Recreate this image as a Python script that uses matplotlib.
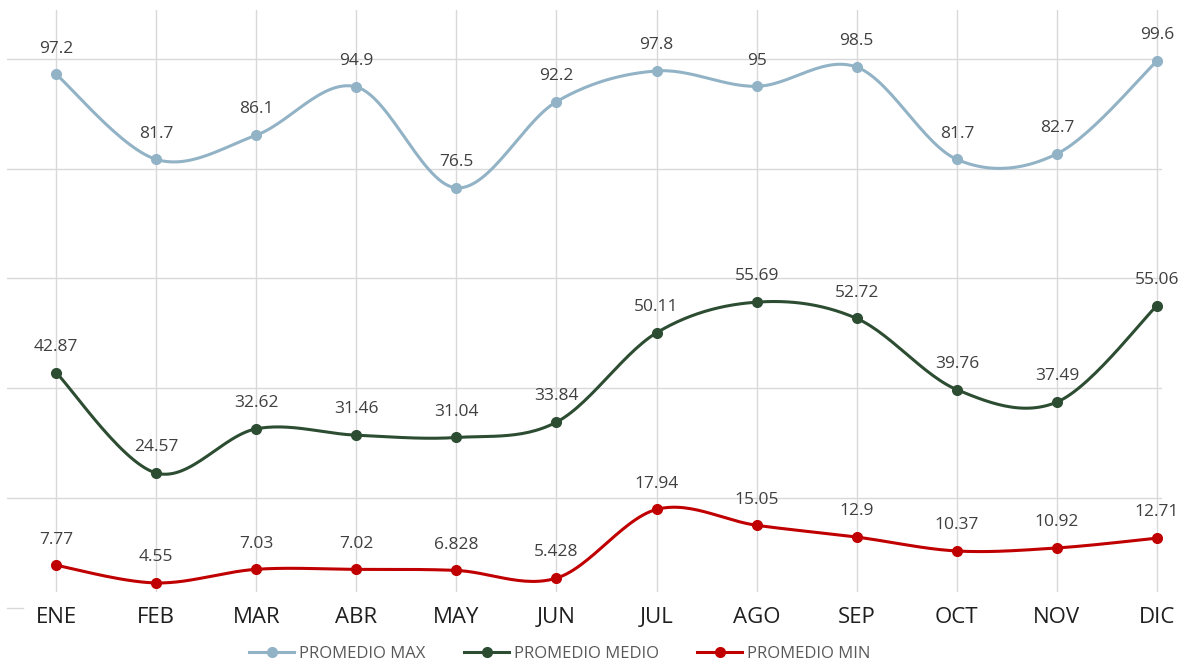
import numpy as np
import matplotlib.pyplot as plt

months = ['ENE', 'FEB', 'MAR', 'ABR', 'MAY', 'JUN', 'JUL', 'AGO', 'SEP', 'OCT', 'NOV', 'DIC']
prom_max = [97.2, 81.7, 86.1, 94.9, 76.5, 92.2, 97.8, 95, 98.5, 81.7, 82.7, 99.6]
prom_medio = [42.87, 24.57, 32.62, 31.46, 31.04, 33.84, 50.11, 55.69, 52.72, 39.76, 37.49, 55.06]
prom_min = [7.77, 4.55, 7.03, 7.02, 6.828, 5.428, 17.94, 15.05, 12.9, 10.37, 10.92, 12.71]

series = [('PROMEDIO MAX', prom_max, '#92B3C6'),
          ('PROMEDIO MEDIO', prom_medio, '#2D4D33'),
          ('PROMEDIO MIN', prom_min, '#C00000')]

plt.rcParams['font.family'] = ['Open Sans', 'DejaVu Sans']


def smooth(x, y, n=30):
    # bezier segments with catmull-rom style control points (like excel smoothing)
    x = np.asarray(x, float)
    y = np.asarray(y, float)
    px = np.concatenate([[x[0]], x, [x[-1]]])
    py = np.concatenate([[y[0]], y, [y[-1]]])
    xs, ys = [], []
    t = np.linspace(0, 1, n)
    for i in range(len(x) - 1):
        p0x, p0y = px[i + 1], py[i + 1]
        p3x, p3y = px[i + 2], py[i + 2]
        c1x = p0x + (px[i + 2] - px[i]) / 6
        c1y = p0y + (py[i + 2] - py[i]) / 6
        c2x = p3x - (px[i + 3] - px[i + 1]) / 6
        c2y = p3y - (py[i + 3] - py[i + 1]) / 6
        bx = (1 - t) ** 3 * p0x + 3 * (1 - t) ** 2 * t * c1x + 3 * (1 - t) * t ** 2 * c2x + t ** 3 * p3x
        by = (1 - t) ** 3 * p0y + 3 * (1 - t) ** 2 * t * c1y + 3 * (1 - t) * t ** 2 * c2y + t ** 3 * p3y
        xs.extend(bx)
        ys.extend(by)
    return np.array(xs), np.array(ys)


fig = plt.figure(figsize=(11.8, 6.64), dpi=100)
ax = fig.add_axes([7 / 1180, (664 - 592) / 664, (1162 - 7) / 1180, (592 - 10) / 664])

x = np.arange(len(months))
handles = []
for name, vals, col in series:
    sx, sy = smooth(x, vals)
    ax.plot(sx, sy, color=col, lw=2.2, zorder=3, solid_capstyle='round')
    ax.plot(x, vals, 'o', color=col, ms=7, zorder=4)
    h, = ax.plot([], [], '-o', color=col, lw=2.2, ms=7, label=name)
    handles.append(h)
    for xi, v in zip(x, vals):
        ax.annotate('{:g}'.format(v), (xi, v), xytext=(0, 18.5), textcoords='offset points',
                    ha='center', va='center', fontsize=12.5, color='#404040',
                    annotation_clip=False)

ax.set_xlim(-0.49, 11.05)
ax.set_ylim(2.9, 108.9)
ax.set_yticks([20, 40, 60, 80, 100])
ax.set_xticks(x)
ax.set_xticklabels(months, fontsize=16, color='#1F1F1F')
ax.tick_params(axis='both', length=0, pad=10.5)
ax.tick_params(axis='y', labelleft=False)
ax.grid(True, color='#D9D9D9', lw=1)
ax.set_axisbelow(True)
for s in ax.spines.values():
    s.set_visible(False)
ax.axhline(0, xmin=0, xmax=0.014, color='#D9D9D9', lw=1, clip_on=False)

fig.legend(handles=handles, loc='center', bbox_to_anchor=(560 / 1180, 1 - 654 / 664),
           ncol=3, frameon=False, fontsize=12, handlelength=2.7, columnspacing=2.3,
           handletextpad=0.3, labelcolor='#595959')

fig.savefig('out.png', dpi=100)
